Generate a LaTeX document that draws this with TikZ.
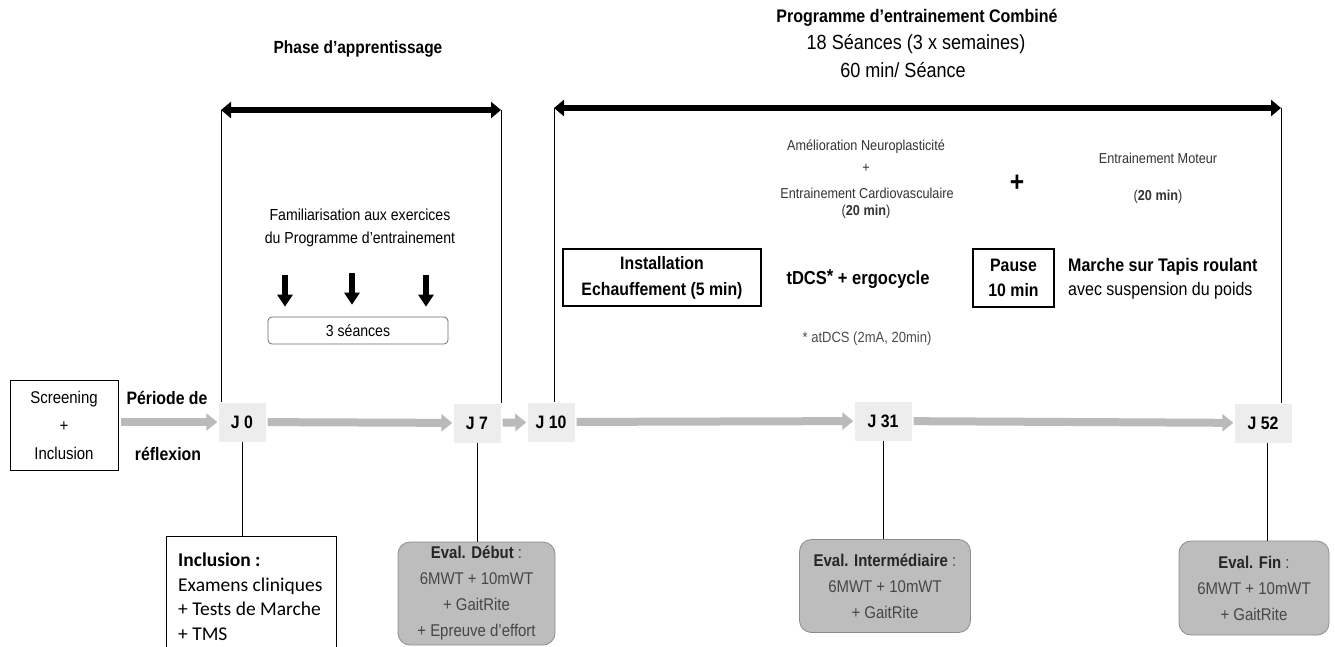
\documentclass[tikz,border=0pt]{standalone}
\usepackage{fontspec}
\setmainfont{Liberation Sans}[FakeStretch=0.88]
\newfontfamily\calibrifont{Carlito}
\usetikzlibrary{arrows.meta}
\newcommand{\fsz}[2]{\fontsize{#1}{#2}\selectfont}
\begin{document}
\begin{tikzpicture}[x=1pt,y=-1pt,
  jbox/.style={fill=black!7, font=\bfseries\fsz{18}{20}, minimum width=47pt, minimum height=39pt, inner sep=0pt},
  tlarrow/.style={draw=black!27, line width=8pt, -{Triangle[length=11pt,width=17pt]}, shorten <=2pt, shorten >=1pt},
  dblarrow/.style={draw=black, line width=6pt, {Triangle[length=10pt,width=16pt]}-{Triangle[length=10pt,width=16pt]}},
  downarr/.style={draw=black, line width=6pt, -{Triangle[length=12pt,width=15pt]}},
  vline/.style={draw=black, line width=0.9pt},
  evalbox/.style={fill=black!26, draw=black!45, line width=0.8pt, rounded corners=12pt, align=center, font=\fsz{17}{26}, text=black!72, inner sep=2pt},
  plainbox/.style={draw=black, line width=1.1pt, align=center, inner sep=0pt},
  small/.style={font=\fsz{14.4}{16}, text=black!80}
]
\clip (0,0) rectangle (1335,646);
\fill[white] (0,0) rectangle (1335,646);

% titles
\node[font=\bfseries\fsz{17.6}{20}] (tphase) at (358,49) {Phase d’apprentissage};
\node[font=\bfseries\fsz{18.2}{20}] (tprog) at (917,18) {Programme d’entrainement Combiné};
\node[font=\fsz{20.5}{23}] (tses) at (916,44) {18 Séances (3 x semaines)};
\node[font=\fsz{20.5}{23}] (tmin) at (903,70) {60 min/ Séance};

% timeline
\node[draw, line width=1pt, minimum width=108pt, minimum height=90pt, align=center, font=\fsz{17}{28}, inner sep=0pt] (scr) at (64,425) {Screening\\+\\Inclusion};
\node[font=\bfseries\fsz{18}{20}] (per1) at (167,398) {Période de};
\node[font=\bfseries\fsz{18}{20}] (per2) at (168,454) {réflexion};

\node[jbox] (j0) at (242,422) {J 0};
\node[jbox] (j7) at (477,423) {J 7};
\node[jbox] (j10) at (551,422) {J 10};
\node[jbox, minimum width=57pt] (j31) at (883,421) {J 31};
\node[jbox, minimum width=57pt] (j52) at (1263,423) {J 52};

\draw[tlarrow] (scr.east |- j0) -- (j0.west);
\draw[tlarrow] (j0) -- (j7);
\draw[tlarrow] (j7) -- (j10);
\draw[tlarrow] (j10) -- (j31);
\draw[tlarrow] (j31) -- (j52);

% phase brackets
\coordinate (la) at (221,110);
\coordinate (lb) at (501,110);
\coordinate (ra) at (554,108);
\coordinate (rb) at (1281,108);
\draw[dblarrow] (la) -- (lb);
\draw[dblarrow] (ra) -- (rb);
\draw[vline] (la) -- (la |- j0.north);
\draw[vline] (lb) -- (lb |- j7.north);
\draw[vline] (ra) -- (ra |- j10.north);
\draw[vline] (rb) -- (rb |- j52.north);

% learning phase
\node[align=center, font=\fsz{16}{23}] (fam) at (360,228) {Familiarisation aux exercices\\du Programme  d’entrainement};
\node[draw=black!60, line width=0.7pt, rounded corners=4pt, minimum width=180pt, minimum height=27pt, font=\fsz{16}{18}, inner sep=0pt] (sea) at (358,330.5) {3 séances};
\coordinate (a1) at (285,275);
\coordinate (a2) at (352,273);
\coordinate (a3) at (426,275);
\draw[downarr] (a1) -- ([yshift=10pt]sea.north -| a1);
\draw[downarr] (a2) -- ([yshift=12pt]sea.north -| a2);
\draw[downarr] (a3) -- ([yshift=10pt]sea.north -| a3);

% combined programme
\node[small] (am1) at (866,147) {Amélioration  Neuroplasticité};
\node[small] (am2) at (866,168) {+};
\node[small] (am3) at (867,193) {Entrainement  Cardiovasculaire};
\node[small] (am4) at (866,212) {(\textbf{20 min})};
\node[plainbox, minimum width=198pt, minimum height=57pt, font=\bfseries\fsz{18}{26}] (inst) at (662,277.5) {Installation\\Echauffement (5 min)};
\node[font=\bfseries\fsz{18.8}{20}] (tdcs) at (858,279) {tDCS\raisebox{2pt}{*} + ergocycle};
\node[font=\fsz{14.8}{16}, text=black!70] (atdcs) at (867,339) {* atDCS (2mA, 20min)};
\node[font=\bfseries\fsz{28}{30}] (plus) at (1017,183) {+};
\node[small] (mot1) at (1158,158) {Entrainement  Moteur};
\node[small] (mot2) at (1158,197) {(\textbf{20 min})};
\node[plainbox, minimum width=81pt, minimum height=58pt, font=\bfseries\fsz{18}{25}] (pause) at (1013.5,278) {Pause\\10 min};
\node[anchor=west, align=left, font=\fsz{18.2}{23.5}, inner sep=0pt] (marche) at (1068,279) {\textbf{Marche sur Tapis roulant}\\avec suspension du poids};

% evaluations
\node[draw, line width=1pt, minimum width=170pt, minimum height=130pt] (incl) at (251,601) {};
\node[anchor=north west, align=left, inner sep=0pt, font=\calibrifont\fsz{19.5}{24.5}] (incltxt) at (178,553) {\textbf{Inclusion :}\\Examens cliniques\\+ Tests de Marche\\+ TMS};
\node[evalbox, minimum width=157pt, minimum height=103pt] (deb) at (476.5,593.5) {{\bfseries\color{black!85}Eval. Début} :\\6MWT + 10mWT\\+ GaitRite\\+ Epreuve d’effort};
\node[evalbox, minimum width=171pt, minimum height=93pt] (inter) at (885,586) {{\bfseries\color{black!85}Eval. Intermédiaire} :\\6MWT + 10mWT\\+ GaitRite};
\node[evalbox, minimum width=150pt, minimum height=94pt] (fin) at (1254,588) {{\bfseries\color{black!85}Eval. Fin} :\\6MWT + 10mWT\\+ GaitRite};

\draw[vline] (j0.south) -- (j0.south |- incl.north);
\draw[vline] (j7.south) -- (j7.south |- deb.north);
\draw[vline] (j31.south) -- (j31.south |- inter.north);
\draw[vline] ([xshift=4pt]j52.south) -- ([xshift=4pt]j52.south |- fin.north);
\end{tikzpicture}
\end{document}
